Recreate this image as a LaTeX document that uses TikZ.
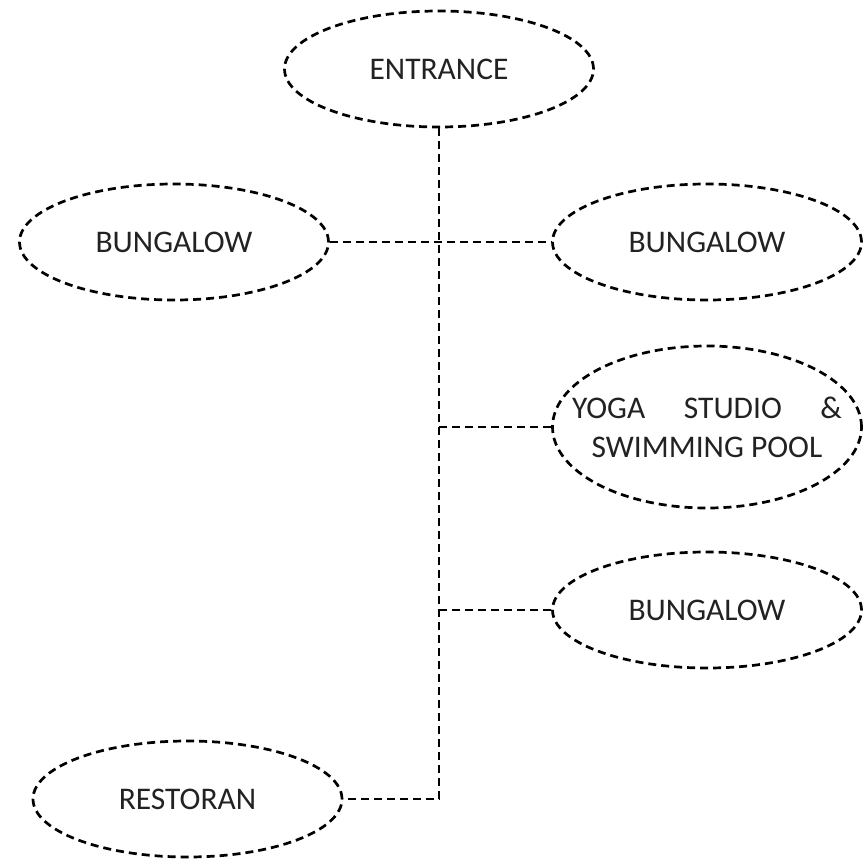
\documentclass[tikz,border=0pt]{standalone}
\usepackage{fontspec}
\setmainfont{Carlito}
\usetikzlibrary{shapes.geometric}
\definecolor{txt}{HTML}{222222}
\begin{document}
\begin{tikzpicture}[x=1pt,y=-1pt,
  place/.style={ellipse,draw=black,line width=2.7pt,dash pattern=on 8pt off 5pt,
    minimum width=309pt,minimum height=116pt,inner sep=0pt,
    font=\fontsize{31.5}{39}\selectfont,text=txt,align=center},
  conn/.style={draw=black,line width=2.7pt,dash pattern=on 8pt off 5pt}]
\useasboundingbox (0,0) rectangle (865,862);
\node[place] (entrance) at (439,69) {ENTRANCE};
\node[place] (bl) at (174,242) {BUNGALOW};
\node[place] (br) at (707,242) {BUNGALOW};
\node[place,minimum height=162pt,inner xsep=-40pt] (yoga) at (707,427)
  {\makebox[270pt][s]{YOGA STUDIO \&}\\SWIMMING POOL};
\node[place] (bb) at (707,610) {BUNGALOW};
\node[place] (rest) at (187.5,799) {RESTORAN};
\coordinate (jr) at (entrance.south |- rest.east);
\coordinate (jy) at (entrance.south |- yoga.west);
\coordinate (jb) at (entrance.south |- bb.west);
\draw[conn] (entrance.south) -- (jr) -- (rest.east);
\draw[conn] (bl.east) -- (br.west);
\draw[conn] (jy) -- (yoga.west);
\draw[conn] (jb) -- (bb.west);
\end{tikzpicture}
\end{document}
